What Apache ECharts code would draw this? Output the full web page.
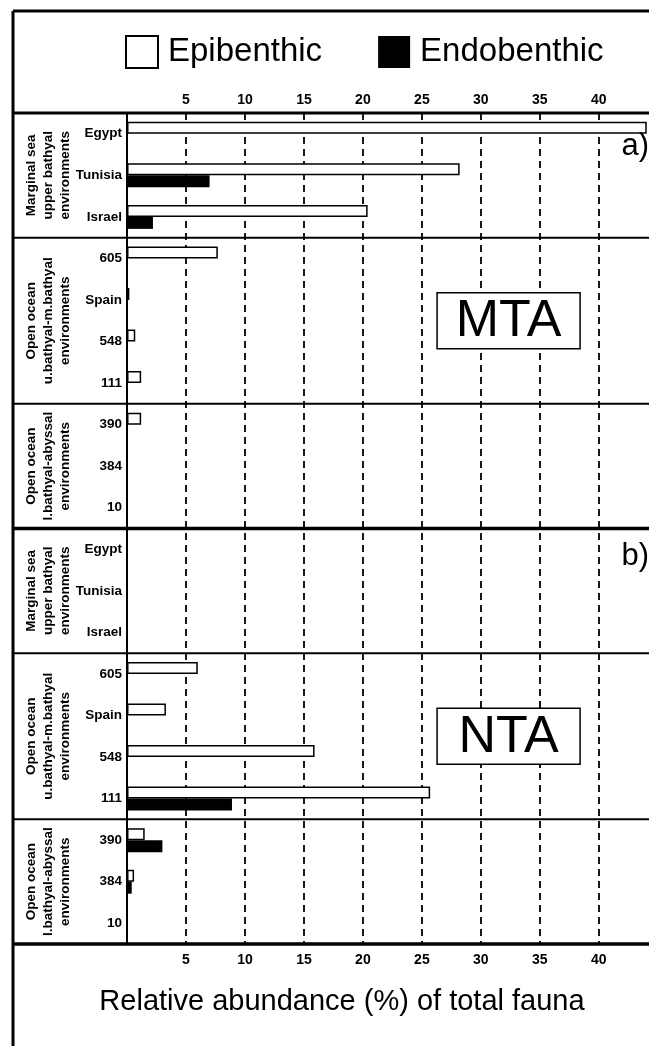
<!DOCTYPE html>
<html><head><meta charset="utf-8">
<script src="https://cdn.jsdelivr.net/npm/echarts@6/dist/echarts.min.js"></script>
<style>html,body{margin:0;padding:0;background:#fff}#c{width:649px;height:1046px}</style>
</head><body><div id="c"></div>
<script>
// ---- data ----
const siteLabels = ['Egypt','Tunisia','Israel','605','Spain','548','111','390','384','10',
                    'Egypt','Tunisia','Israel','605','Spain','548','111','390','384','10'];
const epibenthic  = [44.3, 28.2, 20.4, 7.7, 0.2, 0.7, 1.2, 1.2, null, null,
                     null, null, null, 6.0, 3.3, 15.9, 25.7, 1.5, 0.6, null];
const endobenthic = [null, 7.0, 2.2, null, null, null, null, null, null, null,
                     null, null, null, null, null, null, 8.9, 3.0, 0.4, null];
const xTickLabels = [5, 10, 15, 20, 25, 30, 35, 40];
const groupLabels = ['Marginal sea\nupper bathyal\nenvironments',
                     'Open ocean\nu.bathyal-m.bathyal\nenvironments',
                     'Open ocean\nl.bathyal-abyssal\nenvironments',
                     'Marginal sea\nupper bathyal\nenvironments',
                     'Open ocean\nu.bathyal-m.bathyal\nenvironments',
                     'Open ocean\nl.bathyal-abyssal\nenvironments'];
const groupRanges = [[0,2],[3,6],[7,9],[10,12],[13,16],[17,19]];
const panelNames = ['MTA', 'NTA'];
const panelTags = ['a)', 'b)'];
const axisTitle = 'Relative abundance (%) of total fauna';

// ---- chart ----
const FONT = '"Liberation Sans", Arial, Helvetica, sans-serif';
const chart = echarts.init(document.getElementById('c'));
const yData = siteLabels.map((s, i) => i + '|' + s);
const tickFmt = v => xTickLabels.includes(v) ? String(v) : '';

const option = {
  animation: false,
  backgroundColor: '#fff',
  legend: {
    left: 125, top: 35, padding: 0, itemWidth: 32, itemHeight: 32, itemGap: 56,
    icon: 'rect', selectedMode: false,
    data: [
      {name: 'Epibenthic', itemStyle: {color: '#fff', borderColor: '#000', borderWidth: 2}},
      {name: 'Endobenthic', itemStyle: {color: '#000', borderWidth: 0}}
    ],
    textStyle: {fontFamily: FONT, fontSize: 33, color: '#000', padding: [0, 0, 0, 5]}
  },
  grid: {left: 127, right: 0, top: 113, bottom: 102},
  xAxis: [
    {type: 'value', min: 0, max: 44, interval: 5, position: 'top',
     axisLine: {show: false}, axisTick: {show: false},
     axisLabel: {formatter: tickFmt, fontFamily: FONT, fontWeight: 'bold', fontSize: 14, color: '#000', margin: 6},
     splitLine: {show: true, showMinLine: false, showMaxLine: false,
                 lineStyle: {color: '#000', width: 1.8, type: [7, 5]}}},
    {type: 'value', min: 0, max: 44, interval: 5, position: 'bottom',
     axisLine: {show: false}, axisTick: {show: false},
     axisLabel: {formatter: tickFmt, fontFamily: FONT, fontWeight: 'bold', fontSize: 14, color: '#000', margin: 9},
     splitLine: {show: false}}
  ],
  yAxis: {
    type: 'category', data: yData, inverse: true,
    axisLine: {show: true, onZero: false, lineStyle: {color: '#000', width: 2}},
    axisTick: {show: false},
    axisLabel: {formatter: v => v.split('|')[1], fontFamily: FONT, fontWeight: 'bold',
                fontSize: 13.5, color: '#000', margin: 5}
  },
  series: [
    {name: 'Epibenthic', type: 'bar', xAxisIndex: 0, data: epibenthic, barWidth: 12, barGap: '0%',
     itemStyle: {color: '#fff', borderColor: '#000', borderWidth: 1.5}, z: 3},
    {name: 'Endobenthic', type: 'bar', xAxisIndex: 0, data: endobenthic, barWidth: 12, barGap: '0%',
     itemStyle: {color: '#000'}, z: 3}
  ]
};
chart.setOption(option);

// ---- frame / annotations positioned from the axes ----
const yAt = i => chart.convertToPixel({yAxisIndex: 0}, i);
const xAt = v => chart.convertToPixel({xAxisIndex: 0}, v);
const step = yAt(1) - yAt(0);
const W = 649, frameX = 13, frameY = 11;
const g = [];
const hline = (y, w) => g.push({type: 'line', z: 50, shape: {x1: frameX, y1: y, x2: W, y2: y},
                                 style: {stroke: '#000', lineWidth: w}});
// outer frame
g.push({type: 'line', z: 50, shape: {x1: frameX, y1: frameY, x2: frameX, y2: 1046}, style: {stroke: '#000', lineWidth: 3}});
g.push({type: 'line', z: 50, shape: {x1: frameX, y1: frameY, x2: W, y2: frameY}, style: {stroke: '#000', lineWidth: 3}});
hline(yAt(0) - step / 2, 3);
groupRanges.forEach((r, k) => {
  const yb = yAt(r[1]) + step / 2;
  hline(yb, (k === 2 || k === 5) ? 3.5 : 2);
  const cy = (yAt(r[0]) + yAt(r[1])) / 2;
  g.push({type: 'text', z: 50, x: 48, y: cy, rotation: Math.PI / 2,
          style: {text: groupLabels[k], font: 'bold 13.5px ' + FONT, fill: '#000',
                  align: 'center', verticalAlign: 'middle', textAlign: 'center', textVerticalAlign: 'middle',
                  lineHeight: 17}});
});
// panel boxes MTA / NTA
[[4, 5], [14, 15]].forEach((p, k) => {
  const cx = xAt(32.35), cy = (yAt(p[0]) + yAt(p[1])) / 2;
  g.push({type: 'rect', z: 60, shape: {x: cx - 71.5, y: cy - 28, width: 143, height: 56},
          style: {fill: '#fff', stroke: '#000', lineWidth: 1.5}});
  g.push({type: 'text', z: 61, x: cx, y: cy + 1,
          style: {text: panelNames[k], font: '52px ' + FONT, fill: '#000',
                  align: 'center', verticalAlign: 'middle', textAlign: 'center', textVerticalAlign: 'middle'}});
});
// a) b)
[[0, 146], [1, 556]].forEach(([k, y]) => {
  g.push({type: 'text', z: 61, x: W, y: y,
          style: {text: panelTags[k], font: '31px ' + FONT, fill: '#000',
                  align: 'right', verticalAlign: 'middle', textAlign: 'right', textVerticalAlign: 'middle'}});
});
// axis title
g.push({type: 'text', z: 61, x: 342, y: 1002,
        style: {text: axisTitle, font: '29px ' + FONT, fill: '#000',
                align: 'center', verticalAlign: 'middle', textAlign: 'center', textVerticalAlign: 'middle'}});
chart.setOption({graphic: {elements: g}});
</script></body></html>
